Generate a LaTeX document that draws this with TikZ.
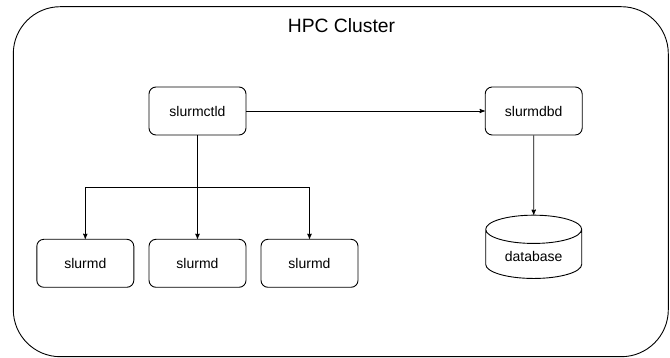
\documentclass[tikz,border=0pt]{standalone}
\usepackage{fontspec}
\setmainfont{Liberation Sans}
\usetikzlibrary{arrows,shapes.geometric}

\begin{document}
\begin{tikzpicture}[x=1pt,y=-1pt, ->,>=stealth', line width=0.9pt,
                main node/.style={draw,rounded corners=7pt,minimum width=97pt,minimum height=48pt,
                  font=\fontsize{14}{16}\selectfont},
                db node/.style={draw,cylinder,shape border rotate=90,aspect=0.44,
                  minimum width=96pt,minimum height=63.3pt,font=\fontsize{14}{16}\selectfont},
                cluster node/.style={draw,rounded corners=47pt,minimum width=655pt,minimum height=350pt}]

  \useasboundingbox (0,0) rectangle (670,358);

  \node[cluster node] (hpc) at (340.8,181.7) {};
  \node[font=\fontsize{19.3}{22}\selectfont] (title) at (341.5,26) {HPC Cluster};

  \node[main node] (ctld) at (197.5,111) {slurmctld};
  \node[main node] (dbd) at (533.7,111) {slurmdbd};
  \node[main node] (d1) at (85.3,263.3) {slurmd};
  \node[main node] (d2) at (197.5,263.3) {slurmd};
  \node[main node] (d3) at (309.5,263.3) {slurmd};
  \node[db node] (db) at (533.7,256.7) {database};

  \coordinate (bus) at (197.5,187);

  \path
    (ctld) edge (dbd)
      edge (d2)
    (dbd) edge (db);
  \draw (bus) -| (d1);
  \draw (bus) -| (d3);
\end{tikzpicture}
\end{document}
